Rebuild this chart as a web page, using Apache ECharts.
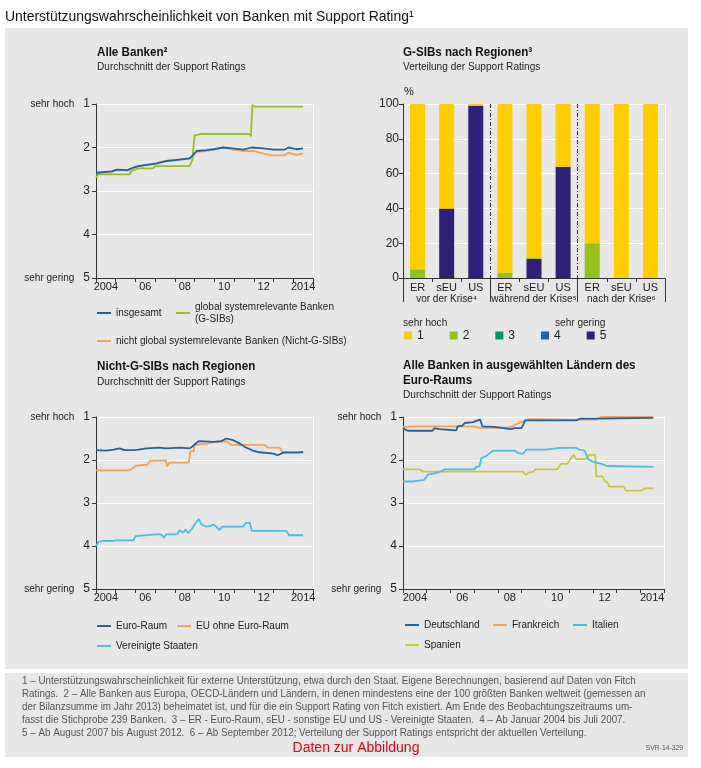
<!DOCTYPE html>
<html><head><meta charset="utf-8">
<script src="https://cdn.jsdelivr.net/npm/echarts@6/dist/echarts.min.js"></script>
<style>html,body{margin:0;padding:0;background:#fff}#c{width:701px;height:768px}</style>
</head><body><div id="c"></div>
<script>
const FONT = "'Liberation Sans Narrow','Liberation Sans',Arial,sans-serif";
const TXT = '#222';

// ---- shared tick labels ----
const yearLabels = ['2004','','06','','08','','10','','12','','2014'];

// ---- Panel 1: Alle Banken ----
const insgesamt = [[2004.0,2.58],[2004.8,2.55],[2005.05,2.51],[2005.6,2.52],[2005.9,2.46],[2006.15,2.43],[2007.05,2.37],[2007.6,2.31],[2008.25,2.28],[2008.75,2.25],[2008.9,2.18],[2009.1,2.08],[2009.6,2.06],[2009.95,2.04],[2010.45,2.0],[2010.95,2.02],[2011.45,2.05],[2011.9,2.0],[2012.0,1.98],[2012.5,2.02],[2013.0,2.05],[2013.55,2.05],[2013.75,2.0],[2014.15,2.04],[2014.5,2.02]];
const gsib = [[2004.0,2.69],[2004.1,2.62],[2005.7,2.62],[2005.8,2.54],[2006.15,2.48],[2006.9,2.48],[2007.0,2.43],[2008.75,2.43],[2008.88,2.29],[2009.0,1.72],[2009.3,1.69],[2011.75,1.69],[2011.85,1.74],[2011.93,1.02],[2012.05,1.06],[2014.5,1.06]];
const nichtGsib = [[2004.0,2.59],[2004.8,2.56],[2005.05,2.52],[2005.6,2.53],[2005.9,2.47],[2006.15,2.43],[2007.05,2.36],[2007.6,2.30],[2008.25,2.27],[2008.75,2.25],[2008.9,2.20],[2009.1,2.10],[2009.6,2.08],[2009.95,2.05],[2010.45,2.0],[2010.95,2.05],[2011.45,2.08],[2012.0,2.08],[2012.5,2.14],[2013.0,2.18],[2013.55,2.18],[2013.75,2.12],[2014.15,2.17],[2014.5,2.14]];

// ---- Panel 2: G-SIBs nach Regionen ----
const barCats = ['ER','sEU','US','ER','sEU','US','ER','sEU','US'];
const barGroups = ['vor der Krise⁴','während der Krise⁵','nach der Krise⁶'];
const rating1 = [95, 60, 1, 97, 88.5, 36, 80, 100, 100];
const rating2 = [5, 0, 0, 3, 0.5, 0, 20, 0, 0];
const rating3 = [0, 0, 0, 0, 0, 0, 0, 0, 0];
const rating4 = [0, 0, 0, 0, 0, 0, 0, 0, 0];
const rating5 = [0, 40, 99, 0, 11, 64, 0, 0, 0];

// ---- Panel 3: Nicht-G-SIBs nach Regionen ----
const euroRaum = [[2004.0,1.77],[2004.5,1.78],[2004.9,1.76],[2005.2,1.73],[2005.45,1.77],[2005.9,1.77],[2006.15,1.76],[2006.55,1.73],[2007.2,1.71],[2007.55,1.73],[2008.25,1.71],[2008.75,1.73],[2008.9,1.68],[2009.2,1.56],[2009.95,1.58],[2010.35,1.56],[2010.6,1.50],[2010.95,1.54],[2011.3,1.62],[2011.6,1.71],[2011.95,1.78],[2012.3,1.82],[2013.0,1.85],[2013.2,1.89],[2013.5,1.83],[2014.15,1.83],[2014.5,1.82]];
const euOhne = [[2004.0,2.24],[2005.7,2.24],[2006.05,2.13],[2006.6,2.11],[2006.75,2.02],[2007.55,2.01],[2007.6,2.15],[2007.73,2.06],[2008.7,2.06],[2008.78,1.80],[2008.95,1.80],[2009.0,1.65],[2009.6,1.62],[2009.95,1.59],[2010.6,1.56],[2010.85,1.65],[2012.55,1.65],[2012.7,1.71],[2013.3,1.71],[2013.45,1.81],[2014.5,1.81]];
const usa = [[2004.0,4.0],[2004.12,3.91],[2004.35,3.88],[2004.85,3.88],[2005.0,3.87],[2005.9,3.87],[2006.0,3.77],[2007.05,3.73],[2007.3,3.73],[2007.45,3.81],[2007.55,3.73],[2008.1,3.73],[2008.25,3.63],[2008.42,3.69],[2008.55,3.61],[2008.67,3.70],[2008.84,3.61],[2009.0,3.50],[2009.2,3.37],[2009.35,3.50],[2009.6,3.55],[2009.77,3.54],[2009.95,3.50],[2010.1,3.55],[2010.25,3.63],[2010.4,3.55],[2011.45,3.55],[2011.6,3.46],[2011.8,3.46],[2011.9,3.65],[2013.65,3.65],[2013.78,3.75],[2014.5,3.75]];

// ---- Panel 4: Ausgewaehlte Laender des Euro-Raums ----
const deutschland = [[2004.0,1.26],[2004.2,1.32],[2005.25,1.32],[2005.32,1.26],[2005.52,1.28],[2005.6,1.31],[2006.25,1.31],[2006.3,1.22],[2006.5,1.20],[2006.6,1.14],[2006.95,1.12],[2007.1,1.09],[2007.25,1.06],[2007.35,1.22],[2007.85,1.23],[2007.93,1.26],[2008.55,1.28],[2008.62,1.32],[2008.7,1.26],[2009.0,1.26],[2009.15,1.08],[2011.3,1.08],[2011.45,1.04],[2012.3,1.04],[2012.35,1.02],[2014.55,1.02]];
const frankreich = [[2004.0,1.23],[2004.7,1.22],[2006.95,1.22],[2007.25,1.25],[2008.35,1.25],[2008.65,1.21],[2008.8,1.16],[2009.05,1.10],[2009.3,1.05],[2011.3,1.06],[2012.15,1.06],[2012.35,1.0],[2014.55,1.0]];
const italien = [[2004.0,2.50],[2004.4,2.50],[2004.47,2.46],[2004.9,2.46],[2005.05,2.34],[2005.33,2.31],[2005.5,2.29],[2005.75,2.22],[2007.0,2.22],[2007.1,2.16],[2007.23,2.14],[2007.3,1.96],[2007.5,1.91],[2007.8,1.78],[2008.7,1.78],[2008.85,1.84],[2009.05,1.86],[2009.2,1.76],[2010.05,1.76],[2010.6,1.72],[2011.3,1.72],[2011.45,1.76],[2011.66,1.78],[2011.8,1.98],[2012.0,2.04],[2012.35,2.09],[2012.6,2.14],[2014.55,2.16]];
const spanien = [[2004.0,2.22],[2004.7,2.22],[2004.85,2.27],[2009.05,2.27],[2009.2,2.35],[2009.27,2.30],[2009.5,2.27],[2009.57,2.22],[2010.5,2.22],[2010.65,2.09],[2010.93,2.09],[2011.05,1.98],[2011.2,1.88],[2011.3,1.98],[2011.75,1.98],[2011.85,1.88],[2012.1,1.88],[2012.15,2.38],[2012.4,2.38],[2012.5,2.48],[2012.63,2.53],[2012.7,2.62],[2013.3,2.62],[2013.4,2.71],[2014.05,2.71],[2014.2,2.66],[2014.55,2.66]];

const C_BLUE = '#1f62a3', C_GREEN = '#95c11f', C_ORANGE = '#f8a152', C_LBLUE = '#4bbce8', C_YEL = '#c8c63c';
const R_COL = ['#ffcc00', '#95c11f', '#00975f', '#1b64a8', '#2f2178'];

const chart = echarts.init(document.getElementById('c'), null, {renderer: 'canvas'});

function yLab(v) {
  if (v === 1) return '{t|sehr hoch}{n|1}';
  if (v === 5) return '{t|sehr gering}{n|5}';
  return '{n|' + v + '}';
}
const yRich = {
  t: {fontSize: 10, fontFamily: FONT, color: TXT, padding: [0, 9, 0, 0]},
  n: {fontSize: 12, fontFamily: FONT, color: TXT}
};
const axLine = {show: true, lineStyle: {color: '#333', width: 1}};
const whiteSplit = {show: true, lineStyle: {color: '#fff', width: 1}};

const grids = [
  {left: 96, top: 104, width: 217, height: 174},
  {left: 403, top: 104, width: 262, height: 174},
  {left: 96, top: 417, width: 217, height: 172},
  {left: 403, top: 417, width: 261, height: 172}
];

const xAxis = [], yAxis = [];
function addLineAxes(gi) {
  const xv = xAxis.length;
  xAxis.push({type: 'value', gridIndex: gi, position: 'bottom', min: 2004, max: 2015, interval: 1,
    axisLine: axLine, axisTick: {show: true, inside: false, length: 4, lineStyle: {color: '#333'}},
    axisLabel: {show: false}, splitLine: {show: false}});
  xAxis.push({type: 'category', gridIndex: gi, position: 'bottom', data: yearLabels, boundaryGap: true,
    axisLine: {show: false}, axisTick: {show: false},
    axisLabel: {interval: 0, margin: 3, fontSize: 11, fontFamily: FONT, color: TXT}, splitLine: {show: false}});
  const yl = yAxis.length;
  yAxis.push({type: 'value', gridIndex: gi, position: 'left', inverse: true, min: 1, max: 5, interval: 1,
    axisLine: axLine, axisTick: {show: true, length: 4, lineStyle: {color: '#333'}},
    axisLabel: {formatter: yLab, margin: 6, rich: yRich}, splitLine: whiteSplit});
  yAxis.push({type: 'value', gridIndex: gi, position: 'right', inverse: true, min: 1, max: 5, interval: 1,
    axisLine: {show: true, lineStyle: {color: '#fff', width: 1}}, axisTick: {show: false},
    axisLabel: {show: false}, splitLine: {show: false}});
  return {x: xv, y: yl};
}

const A0 = addLineAxes(0);
// bar grid axes
const xBar = xAxis.length;
xAxis.push({type: 'category', gridIndex: 1, position: 'bottom', data: barCats,
  axisLine: axLine, axisTick: {show: true, length: 4, lineStyle: {color: '#333'}},
  axisLabel: {interval: 0, margin: 4, fontSize: 11, fontFamily: FONT, color: TXT}});
xAxis.push({type: 'category', gridIndex: 1, position: 'bottom', data: barGroups,
  axisLine: {show: false}, axisTick: {show: true, length: 24, lineStyle: {color: '#333'}},
  axisLabel: {interval: 0, margin: 16, fontSize: 10, fontFamily: FONT, color: TXT}});
xAxis.push({type: 'value', gridIndex: 1, position: 'bottom', min: 0, max: 9, interval: 3,
  axisLine: {show: false}, axisTick: {show: false}, axisLabel: {show: false},
  splitLine: {show: true, showMinLine: false, showMaxLine: false, lineStyle: {color: '#333', width: 1, type: [4, 2, 1, 2]}}});
const yBar = yAxis.length;
yAxis.push({type: 'value', gridIndex: 1, position: 'left', min: 0, max: 100, interval: 20,
  name: '%', nameLocation: 'end', nameGap: 7, nameTextStyle: {align: 'left', padding: [0, 0, 0, 1], fontSize: 11, fontFamily: FONT, color: TXT},
  axisLine: axLine, axisTick: {show: true, length: 4, lineStyle: {color: '#333'}},
  axisLabel: {margin: 4, fontSize: 12, fontFamily: FONT, color: TXT}, splitLine: whiteSplit});
yAxis.push({type: 'value', gridIndex: 1, position: 'right', min: 0, max: 100, interval: 20,
  axisLine: {show: true, lineStyle: {color: '#fff', width: 1}}, axisTick: {show: false},
  axisLabel: {show: false}, splitLine: {show: false}});
const A2 = addLineAxes(2);
const A3 = addLineAxes(3);

function line(name, data, color, A) {
  return {type: 'line', name, data, xAxisIndex: A.x, yAxisIndex: A.y, showSymbol: false, symbol: 'none',
    lineStyle: {color, width: 1.8}, itemStyle: {color}, animation: false, z: 3};
}
function bar(name, data, color) {
  return {type: 'bar', name, data, xAxisIndex: xBar, yAxisIndex: yBar, stack: 'r', barWidth: 15,
    itemStyle: {color}, animation: false};
}

const series = [
  line('nicht global systemrelevante Banken (Nicht-G-SIBs)', nichtGsib, C_ORANGE, A0),
  line('global systemrelevante Banken\n(G-SIBs)', gsib, C_GREEN, A0),
  line('insgesamt', insgesamt, C_BLUE, A0),
  bar('5', rating5, R_COL[4]),
  bar('4', rating4, R_COL[3]),
  bar('3', rating3, R_COL[2]),
  bar('2', rating2, R_COL[1]),
  bar('1', rating1, R_COL[0]),
  line('EU ohne Euro-Raum', euOhne, C_ORANGE, A2),
  line('Euro-Raum', euroRaum, C_BLUE, A2),
  line('Vereinigte Staaten', usa, C_LBLUE, A2),
  line('Spanien', spanien, C_YEL, A3),
  line('Italien', italien, C_LBLUE, A3),
  line('Frankreich', frankreich, C_ORANGE, A3),
  line('Deutschland', deutschland, C_BLUE, A3)
];

function leg(name, left, top, extra) {
  return Object.assign({data: [name], left, top, orient: 'horizontal', icon: 'rect', itemWidth: 14, itemHeight: 2,
    itemGap: 0, padding: 0, selectedMode: false,
    textStyle: {fontFamily: FONT, fontSize: 10, color: TXT, lineHeight: 13}}, extra || {});
}
const legend = [
  leg('insgesamt', 97, 306.5),
  leg('global systemrelevante Banken\n(G-SIBs)', 176, 295, {textStyle: {fontFamily: FONT, fontSize: 10, color: TXT, lineHeight: 12, padding: [12, 0, 0, 0]}}),
  leg('nicht global systemrelevante Banken (Nicht-G-SIBs)', 97, 334.5),
  leg('Euro-Raum', 97, 619.5),
  leg('EU ohne Euro-Raum', 177, 619.5),
  leg('Vereinigte Staaten', 97, 639.5),
  leg('Deutschland', 405, 618.5),
  leg('Frankreich', 493, 618.5),
  leg('Italien', 573, 618.5),
  leg('Spanien', 405, 638.5),
  {data: ['1', '2', '3', '4', '5'], left: 404, top: 329, orient: 'horizontal', icon: 'rect', itemWidth: 8, itemHeight: 8,
    itemGap: 26, itemTextGap: 5, padding: 0, selectedMode: false,
    textStyle: {fontFamily: FONT, fontSize: 12, color: TXT, lineHeight: 13}}
];

const notes = [
  '1 – Unterstützungswahrscheinlichkeit für externe Unterstützung, etwa durch den Staat. Eigene Berechnungen, basierend auf Daten von Fitch',
  'Ratings.  2 – Alle Banken aus Europa, OECD-Ländern und Ländern, in denen mindestens eine der 100 größten Banken weltweit (gemessen an',
  'der Bilanzsumme im Jahr 2013) beheimatet ist, und für die ein Support Rating von Fitch existiert. Am Ende des Beobachtungszeitraums um-',
  'fasst die Stichprobe 239 Banken.  3 – ER - Euro-Raum, sEU - sonstige EU und US - Vereinigte Staaten.  4 – Ab Januar 2004 bis Juli 2007.',
  '5 – Ab August 2007 bis August 2012.  6 – Ab September 2012; Verteilung der Support Ratings entspricht der aktuellen Verteilung.'
];

function txt(x, y, text, size, opts) {
  opts = opts || {};
  return {type: 'text', x, y, scaleX: opts.sx || 1, silent: true,
    style: {text, fontFamily: FONT, fontSize: size, fontWeight: opts.bold ? 'bold' : 'normal',
      fill: opts.fill || TXT, align: opts.align || 'left', verticalAlign: 'middle'}};
}
const TS = 0.93, SS = 0.96;
const graphic = [
  {type: 'rect', shape: {x: 5, y: 28, width: 683, height: 641}, style: {fill: '#e7e7e7'}, z: -10, silent: true},
  {type: 'rect', shape: {x: 5, y: 673, width: 683, height: 84}, style: {fill: '#e7e7e7'}, z: -10, silent: true},
  txt(5, 17, 'Unterstützungswahrscheinlichkeit von Banken mit Support Rating¹', 15, {sx: 0.93, fill: '#111'}),
  txt(97, 53, 'Alle Banken²', 12.5, {bold: true, sx: TS, fill: '#111'}),
  txt(97, 67, 'Durchschnitt der Support Ratings', 10.5, {sx: SS}),
  txt(403, 53, 'G-SIBs nach Regionen³', 12.5, {bold: true, sx: TS, fill: '#111'}),
  txt(403, 67, 'Verteilung der Support Ratings', 10.5, {sx: SS}),
  txt(97, 367, 'Nicht-G-SIBs nach Regionen', 12.5, {bold: true, sx: TS, fill: '#111'}),
  txt(97, 382, 'Durchschnitt der Support Ratings', 10.5, {sx: SS}),
  txt(403, 366, 'Alle Banken in ausgewählten Ländern des', 12.5, {bold: true, sx: TS, fill: '#111'}),
  txt(403, 381, 'Euro-Raums', 12.5, {bold: true, sx: TS, fill: '#111'}),
  txt(403, 395, 'Durchschnitt der Support Ratings', 10.5, {sx: SS}),
  txt(403, 323, 'sehr hoch', 10.5, {sx: SS}),
  txt(555, 323, 'sehr gering', 10.5, {sx: SS}),
  txt(356, 748, 'Daten zur Abbildung', 14, {fill: '#e3000f', align: 'center'}),
  txt(683, 748, 'SVR-14-329', 7.5, {fill: '#555', align: 'right', sx: 0.9})
];
const noteY = [681, 694, 707, 720, 733];
notes.forEach((s, i) => graphic.push(txt(22, noteY[i], s, 10.2, {fill: '#555', sx: 0.965})));

chart.setOption({
  backgroundColor: '#fff',
  animation: false,
  grid: grids,
  xAxis, yAxis, series, legend, graphic
});
</script></body></html>
